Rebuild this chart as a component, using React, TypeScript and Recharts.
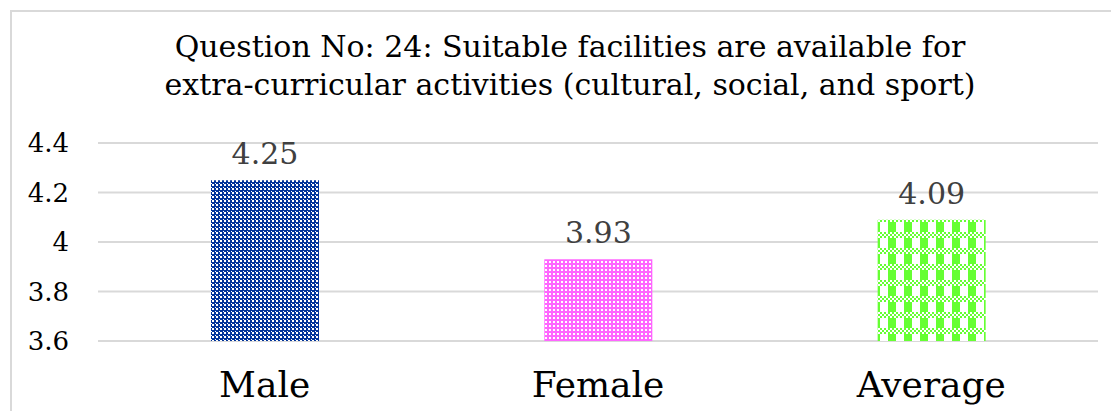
import { BarChart, Bar, XAxis, YAxis, CartesianGrid, LabelList, Cell } from 'recharts';

const categories = ['Male', 'Female', 'Average'];
const scores = [4.25, 3.93, 4.09];
const yTicks = [3.6, 3.8, 4, 4.2, 4.4];
const titleLines = [
  'Question No: 24: Suitable facilities are available for',
  'extra-curricular activities (cultural, social, and sport)',
];

const data = categories.map((name, i) => ({ name, value: scores[i] }));
const fills = ['url(#patMale)', 'url(#patFemale)', 'url(#patAvg)'];

const FONT = '"DejaVu Serif", serif';

const App = () => {
  return (
    <div style={{ position: 'relative', margin: -8, width: 1119, height: 419, overflow: 'hidden', background: '#fff' }}>
      <div
        style={{
          position: 'absolute',
          left: 10,
          top: 10,
          width: 1200,
          height: 500,
          border: '2px solid #d9d9d9',
        }}
      />
      <div
        style={{
          position: 'absolute',
          left: 0,
          width: 1140,
          top: 28,
          textAlign: 'center',
          fontFamily: FONT,
          fontSize: 30,
          lineHeight: '38px',
          color: '#000',
        }}
      >
        {titleLines.map((t) => (
          <div key={t}>{t}</div>
        ))}
      </div>
      <div style={{ position: 'absolute', left: 0, top: 0 }}>
        <BarChart
          width={1119}
          height={419}
          data={data}
          margin={{ top: 143, right: 21, bottom: 0, left: 0 }}
          barSize={108}
        >
          <defs>
            <pattern id="patMale" width="4" height="4" patternUnits="userSpaceOnUse">
              <rect width="4" height="4" fill="#00339a" />
              <rect x="0" y="0" width="2" height="2" fill="#ffffff" />
              <rect x="3" y="3" width="1" height="1" fill="#ffffff" />
            </pattern>
            <pattern id="patFemale" width="4" height="4" patternUnits="userSpaceOnUse">
              <rect width="4" height="4" fill="#ff66ff" />
              <rect x="1" y="1" width="2" height="2" fill="#ffffff" />
            </pattern>
            <pattern id="patAvg" width="16" height="16" patternUnits="userSpaceOnUse">
              <rect width="16" height="16" fill="#ffffff" />
              <rect x="8" y="0" width="8" height="16" fill="#66ff33" />
              <rect x="0" y="8" width="16" height="6" fill="#ffffff" />
              <rect x="0" y="8" width="2" height="2" fill="#66ff33" />
              <rect x="4" y="8" width="2" height="2" fill="#66ff33" />
              <rect x="8" y="8" width="2" height="2" fill="#66ff33" />
              <rect x="12" y="8" width="2" height="2" fill="#66ff33" />
              <rect x="2" y="10" width="2" height="2" fill="#66ff33" />
              <rect x="6" y="10" width="2" height="2" fill="#66ff33" />
              <rect x="10" y="10" width="2" height="2" fill="#66ff33" />
              <rect x="14" y="10" width="2" height="2" fill="#66ff33" />
              <rect x="0" y="12" width="2" height="2" fill="#66ff33" />
              <rect x="4" y="12" width="2" height="2" fill="#66ff33" />
              <rect x="8" y="12" width="2" height="2" fill="#66ff33" />
              <rect x="12" y="12" width="2" height="2" fill="#66ff33" />
            </pattern>
          </defs>
          <CartesianGrid vertical={false} stroke="#d9d9d9" strokeWidth={2} />
          <XAxis
            dataKey="name"
            axisLine={false}
            tickLine={false}
            height={78}
            tick={{ fontFamily: FONT, fontSize: 36, fill: '#000' }}
            tickMargin={24}
          />
          <YAxis
            domain={[3.6, 4.4]}
            ticks={yTicks}
            axisLine={false}
            tickLine={false}
            tickSize={0}
            tickMargin={29}
            width={98}
            tick={{ fontFamily: FONT, fontSize: 26, fill: '#000' }}
          />
          <Bar dataKey="value" isAnimationActive={false}>
            {data.map((d, i) => (
              <Cell key={d.name} fill={fills[i]} />
            ))}
            <LabelList
              dataKey="value"
              position="top"
              offset={16}
              style={{ fontFamily: FONT, fontSize: 30, fill: '#404040' }}
            />
          </Bar>
        </BarChart>
      </div>
    </div>
  );
};

export default App;
